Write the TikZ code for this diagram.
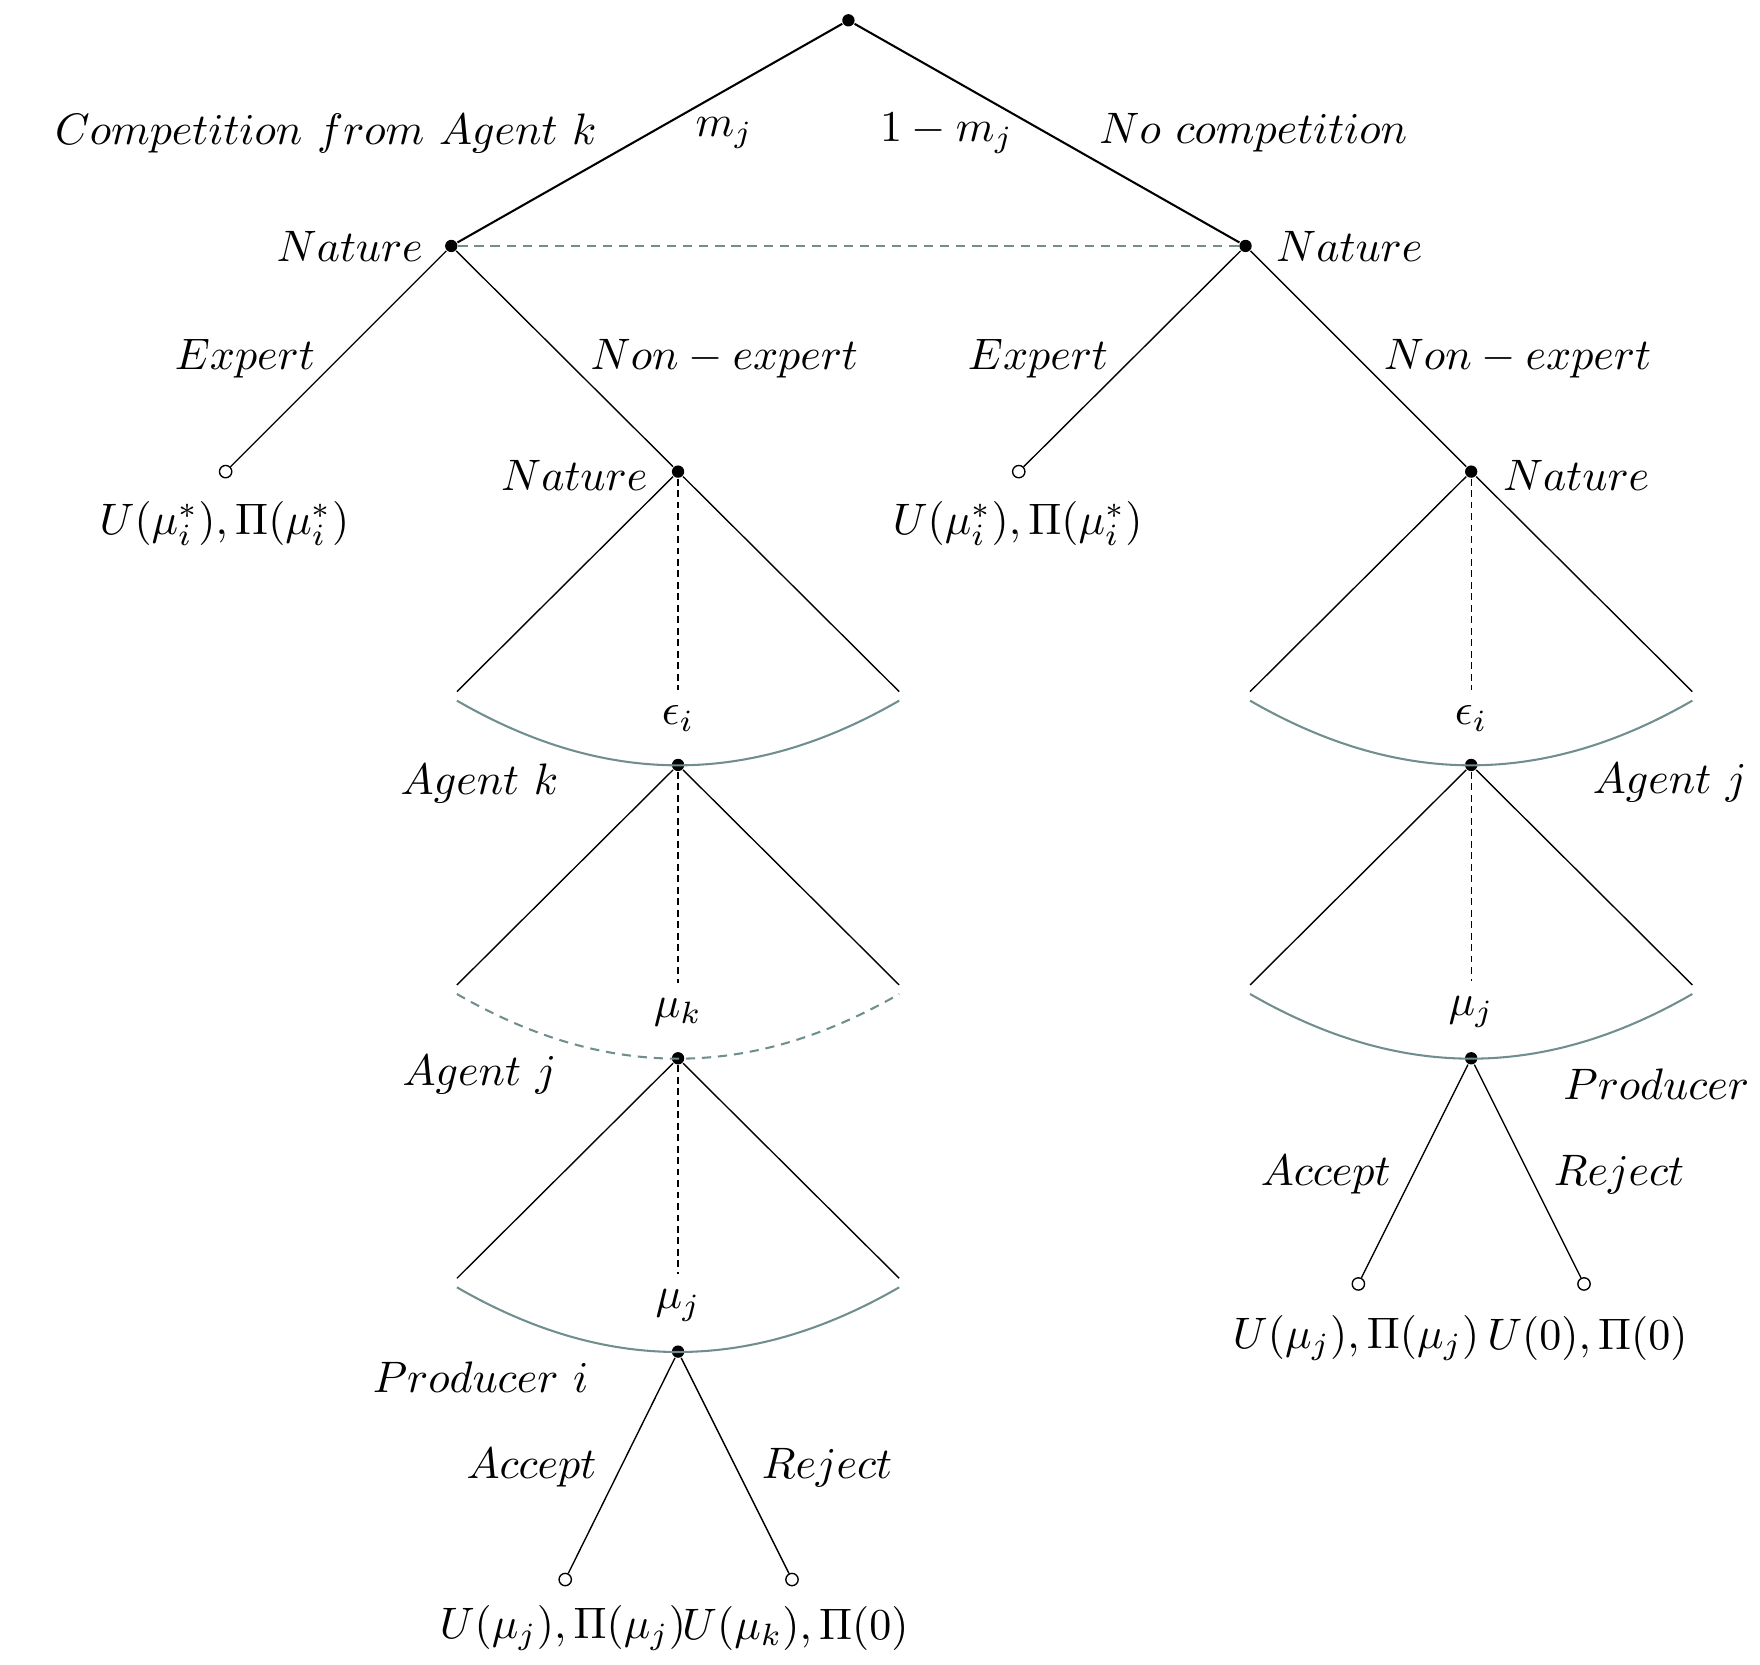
\documentclass[tikz,border=0pt]{standalone}
\usepackage{amsmath,amssymb}
\usepackage{xcolor}

\definecolor{grisinfo}{RGB}{112,142,142}

\begin{document}
\begin{tikzpicture}[x=0.864cm,y=0.864cm,
    every node/.append style={scale=0.96},
    punto/.style={circle,fill=black,inner sep=0pt,minimum size=2.8pt},
    hoja/.style={circle,draw=black,fill=white,inner sep=0pt,minimum size=2.8pt,line width=0.3pt},
    rama/.style={line width=0.3pt},
    tronco/.style={line width=0.45pt},
    linfo/.style={grisinfo,line width=0.45pt},
    vertical/.style={line width=0.3pt,dash pattern=on 1.5pt off 1pt}]

    \useasboundingbox (-7.52,0.18) rectangle (8.08,-14.57);

    % nodos de decision
    \node[punto] (raiz) at (0,0) {};
    \node[punto] (natA) at (-3.52,-2) {};
    \node[punto] (natB) at (3.52,-2) {};
    \node[hoja] (expA) at (-5.52,-4) {};
    \node[punto] (natC) at (-1.51,-4) {};
    \node[hoja] (expB) at (1.51,-4) {};
    \node[punto] (natD) at (5.52,-4) {};

    % primer nivel
    \draw[tronco] (raiz) -- (natA);
    \draw[tronco] (raiz) -- (natB);
    \draw[grisinfo, line width=0.45pt, dash pattern=on 2pt off 1.5pt] (natA) -- (natB);
    \node (comp) at (-4.63,-1.0) {$Competition\ from\ Agent\ k$};
    \node (pm) at (-1.10,-1.0) {$m_j$};
    \node (qm) at (0.87,-1.0) {$1-m_j$};
    \node (nocomp) at (3.59,-1.0) {$No\ competition$};
    \node (tnatA) at (-4.42,-2.0) {$Nature$};
    \node (tnatB) at (4.44,-2.0) {$Nature$};

    % segundo nivel
    \draw[rama] (natA) -- (expA);
    \draw[rama] (natA) -- (natC);
    \draw[rama] (natB) -- (expB);
    \draw[rama] (natB) -- (natD);
    \node (texpA) at (-5.35,-3.0) {$Expert$};
    \node (tnoA) at (-1.10,-3.0) {$Non-expert$};
    \node (texpB) at (1.68,-3.0) {$Expert$};
    \node (tnoB) at (5.93,-3.0) {$Non-expert$};
    \node (pagoA) at (-5.53,-4.46) {$U(\mu_i^*),\Pi(\mu_i^*)$};
    \node (pagoB) at (1.50,-4.46) {$U(\mu_i^*),\Pi(\mu_i^*)$};
    \node (tnatC) at (-2.43,-4.03) {$Nature$};
    \node (tnatD) at (6.45,-4.03) {$Nature$};

    % rama izquierda: epsilon
    \coordinate (c1a) at (-3.47,-5.95);
    \coordinate (c1b) at (0.45,-5.95);
    \coordinate (a1a) at (-3.47,-6.03);
    \coordinate (a1b) at (0.45,-6.03);
    \node[punto] (agk) at (-1.51,-6.6) {};
    \node (eps1) at (-1.51,-6.19) {$\epsilon_i$};
    \draw[rama] (natC) -- (c1a);
    \draw[rama] (natC) -- (c1b);
    \draw[vertical] (natC) -- (eps1);
    \draw[linfo] (a1a) to[bend right=30] (a1b);
    \node (tagk) at (-3.27,-6.76) {$Agent\ k$};

    % rama izquierda: mu_k
    \coordinate (c2a) at (-3.47,-8.55);
    \coordinate (c2b) at (0.45,-8.55);
    \coordinate (a2a) at (-3.47,-8.63);
    \coordinate (a2b) at (0.45,-8.63);
    \node[punto] (agj) at (-1.51,-9.2) {};
    \node (muk) at (-1.51,-8.79) {$\mu_k$};
    \draw[rama] (agk) -- (c2a);
    \draw[rama] (agk) -- (c2b);
    \draw[vertical] (agk) -- (muk);
    \draw[linfo, dash pattern=on 2pt off 1.5pt] (a2a) to[bend right=30] (a2b);
    \node (tagj) at (-3.27,-9.35) {$Agent\ j$};

    % rama izquierda: mu_j
    \coordinate (c3a) at (-3.47,-11.15);
    \coordinate (c3b) at (0.45,-11.15);
    \coordinate (a3a) at (-3.47,-11.23);
    \coordinate (a3b) at (0.45,-11.23);
    \node[punto] (prodi) at (-1.51,-11.8) {};
    \node (muj1) at (-1.51,-11.39) {$\mu_j$};
    \draw[rama] (agj) -- (c3a);
    \draw[rama] (agj) -- (c3b);
    \draw[vertical] (agj) -- (muj1);
    \draw[linfo] (a3a) to[bend right=30] (a3b);
    \node (tprodi) at (-3.26,-12.03) {$Producer\ i$};

    % productor i
    \node[hoja] (acepA) at (-2.51,-13.82) {};
    \node[hoja] (rechA) at (-0.50,-13.82) {};
    \draw[rama] (prodi) -- (acepA);
    \draw[rama] (prodi) -- (rechA);
    \node (tacepA) at (-2.81,-12.83) {$Accept$};
    \node (trechA) at (-0.19,-12.83) {$Reject$};
    \node (pagoC) at (-2.53,-14.25) {$U(\mu_j),\Pi(\mu_j)$};
    \node (pagoD) at (-0.47,-14.25) {$U(\mu_k),\Pi(0)$};

    % rama derecha: epsilon
    \coordinate (c4a) at (3.56,-5.95);
    \coordinate (c4b) at (7.48,-5.95);
    \coordinate (a4a) at (3.56,-6.03);
    \coordinate (a4b) at (7.48,-6.03);
    \node[punto] (agjb) at (5.52,-6.6) {};
    \node (eps2) at (5.52,-6.19) {$\epsilon_i$};
    \draw[rama] (natD) -- (c4a);
    \draw[rama] (natD) -- (c4b);
    \draw[vertical] (natD) -- (eps2);
    \draw[linfo] (a4a) to[bend right=30] (a4b);
    \node (tagjb) at (7.28,-6.76) {$Agent\ j$};

    % rama derecha: mu_j
    \coordinate (c5a) at (3.56,-8.55);
    \coordinate (c5b) at (7.48,-8.55);
    \coordinate (a5a) at (3.56,-8.63);
    \coordinate (a5b) at (7.48,-8.63);
    \node[punto] (prod) at (5.52,-9.2) {};
    \node (muj2) at (5.52,-8.79) {$\mu_j$};
    \draw[rama] (agjb) -- (c5a);
    \draw[rama] (agjb) -- (c5b);
    \draw[vertical] (agjb) -- (muj2);
    \draw[linfo] (a5a) to[bend right=30] (a5b);
    \node (tprod) at (7.16,-9.43) {$Producer$};

    % productor
    \node[hoja] (acepB) at (4.52,-11.2) {};
    \node[hoja] (rechB) at (6.52,-11.2) {};
    \draw[rama] (prod) -- (acepB);
    \draw[rama] (prod) -- (rechB);
    \node (tacepB) at (4.23,-10.23) {$Accept$};
    \node (trechB) at (6.83,-10.23) {$Reject$};
    \node (pagoE) at (4.50,-11.68) {$U(\mu_j),\Pi(\mu_j)$};
    \node (pagoF) at (6.55,-11.68) {$U(0),\Pi(0)$};

\end{tikzpicture}
\end{document}
